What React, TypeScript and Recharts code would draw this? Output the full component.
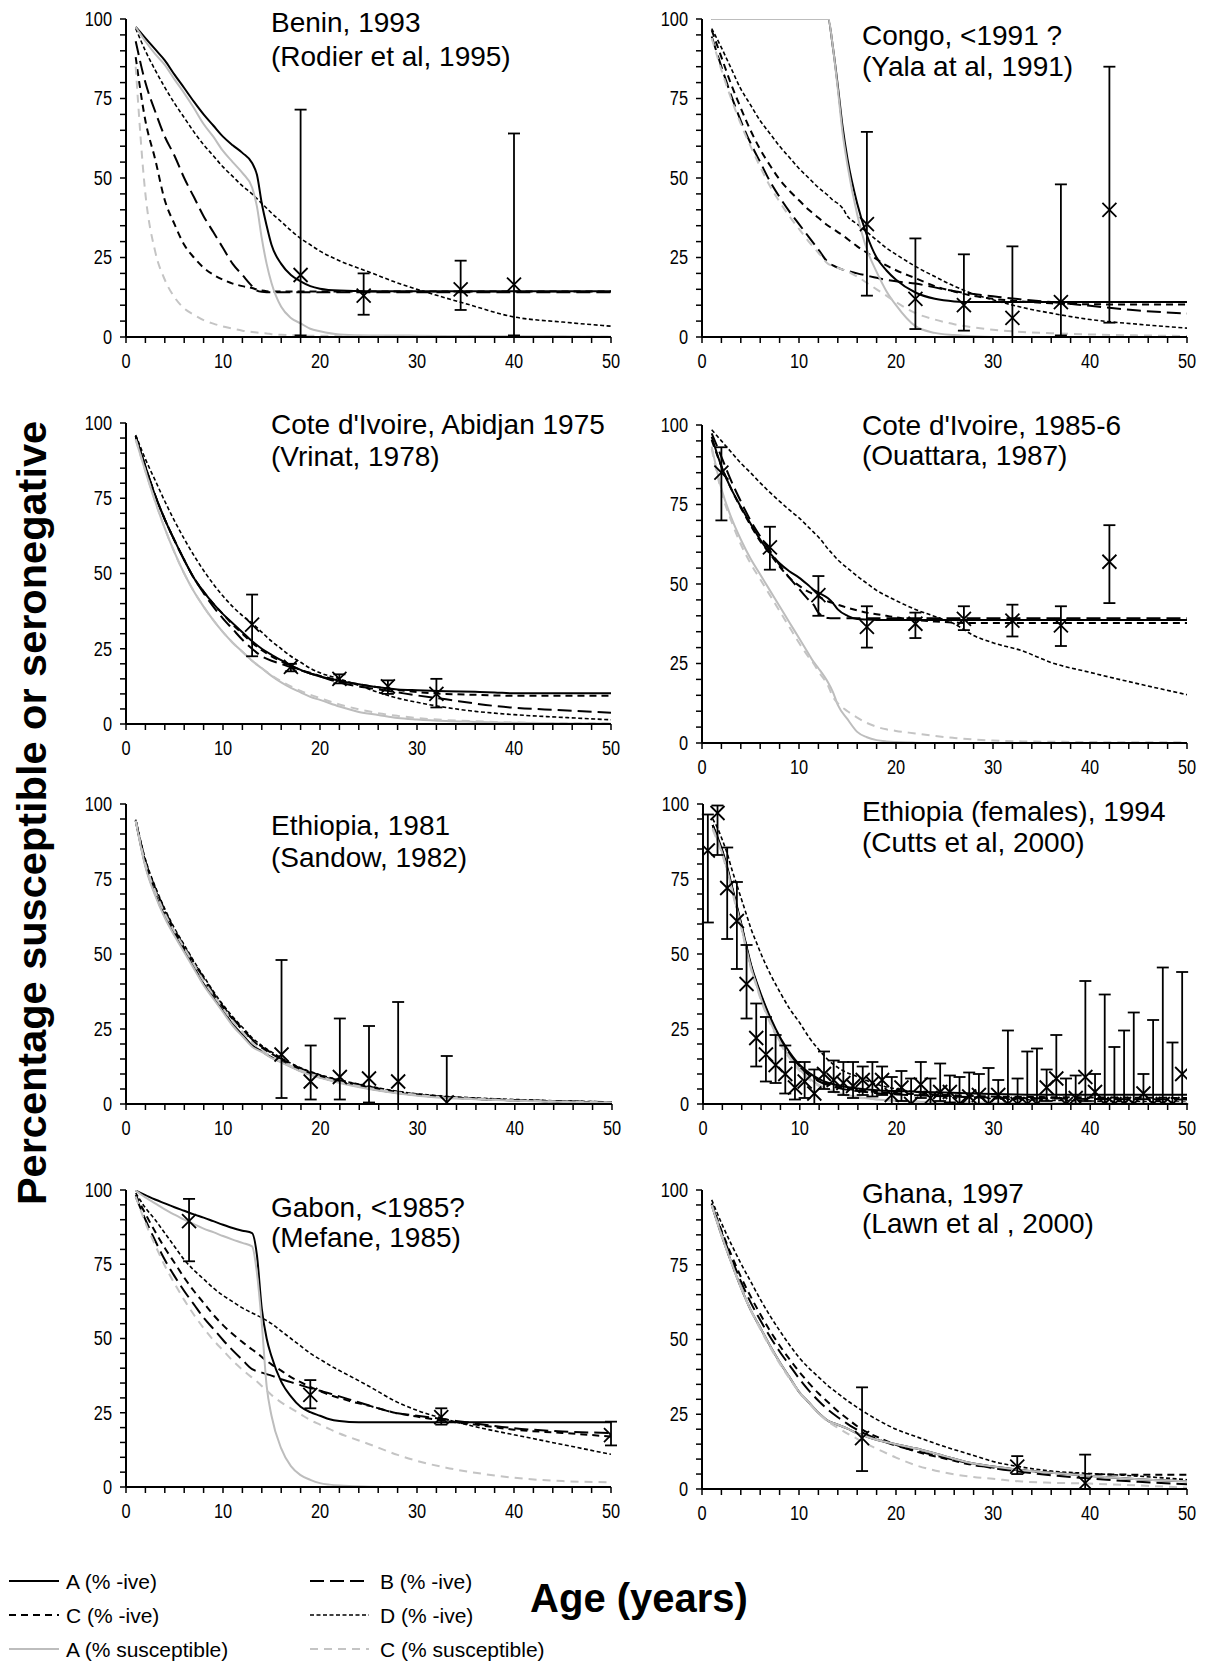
import React from 'react';
import { ComposedChart, Line, Scatter, XAxis, YAxis, ErrorBar } from 'recharts';

const FONT = '"Liberation Sans", Arial, Helvetica, sans-serif';

const X_TICKS = [0, 2, 4, 6, 8, 10, 12, 14, 16, 18, 20, 22, 24, 26, 28, 30, 32, 34, 36, 38, 40, 42, 44, 46, 48, 50];
const Y_TICKS = [0, 5, 10, 15, 20, 25, 30, 35, 40, 45, 50, 55, 60, 65, 70, 75, 80, 85, 90, 95, 100];

// ---------- Benin, 1993 ----------
const beninAges = [1, 2, 3, 4, 5, 6, 7, 8, 9, 10, 11, 12, 13, 13.5, 14, 14.5, 15, 16, 17, 18, 19, 20, 22, 25, 28, 30, 35, 40, 45, 50];
const beninA = [97.5, 94, 90.5, 87, 82.5, 78.3, 74, 70, 66.5, 63, 60.3, 57.9, 54.7, 51, 42, 35, 29, 23, 19.5, 17.5, 16, 15.2, 14.6, 14.4, 14.4, 14.4, 14.4, 14.4, 14.4, 14.4];
const beninB = [93, 80, 71, 63, 57, 50, 44, 38, 33, 28, 23, 19.5, 16, 14.6, 14.2, 14.1, 14.1, 14.1, 14.1, 14.1, 14.1, 14.1, 14.1, 14.1, 14.1, 14.1, 14.1, 14.1, 14.1, 14.1];
const beninC = [88, 68, 56, 43, 35.5, 29, 25, 21.8, 19.6, 18, 16.8, 16, 15.4, 14.9, 14.6, 14.4, 14.3, 14.3, 14.3, 14.3, 14.3, 14.3, 14.3, 14.3, 14.3, 14.3, 14.3, 14.3, 14.3, 14.3];
const beninD = [97, 90, 84, 78.5, 73.5, 69, 64.5, 60.5, 57, 53.5, 50.5, 47.5, 45, 43.5, 42, 40.5, 39, 36.3, 33.5, 31, 29, 27, 24, 20.5, 17, 15, 10.5, 6.3, 4.7, 3.4];
const beninAs = [97.5, 93, 89, 85.6, 81, 76.7, 72, 67, 63, 58.5, 55, 51.6, 47, 41, 31, 23, 17, 9.5, 6, 4.3, 2.6, 1.8, 0.8, 0.5, 0.5, 0.4, 0.3, 0.2, 0.2, 0.1];
const beninCs = [85, 45, 27, 18, 12.5, 9, 7, 5.3, 4.2, 3.3, 2.6, 2, 1.6, 1.4, 1.2, 1.1, 0.9, 0.7, 0.6, 0.5, 0.4, 0.4, 0.3, 0.3, 0.2, 0.2, 0.2, 0.1, 0.1, 0.1];
const beninObsAge = [18, 24.5, 34.5, 40];
const beninObs = [19.5, 13, 15, 16.5];
const beninObsLo = [0.5, 7, 8.5, 0.5];
const beninObsHi = [71.5, 20, 24, 64];

// ---------- Congo, <1991 ----------
const congoAges = [1, 2, 3, 4, 5, 6, 7, 8, 9, 10, 11, 12, 13, 13.5, 14, 14.5, 15, 16, 17, 18, 19, 20, 22, 24, 26, 28, 30, 33, 36, 40, 45, 50];
const congoA = [100, 100, 100, 100, 100, 100, 100, 100, 100, 100, 100, 100, 100, 91, 79, 66, 56, 42, 32, 25, 21, 18, 14, 12, 11.2, 11, 11, 11, 11, 11, 11, 11];
const congoB = [94.5, 85, 76, 68, 61, 55, 49, 44, 39.5, 35.5, 31.5, 27.5, 23.5, 22.5, 21.8, 21.2, 20.8, 20, 19.3, 18.6, 18, 17.5, 16.8, 15.6, 14.4, 13.5, 12.8, 11.8, 11, 9.8, 8.3, 7.4];
const congoC = [96.5, 88, 79.5, 72, 65, 59, 54, 49.5, 46, 43, 40, 37.5, 35, 34, 33, 32, 30.8, 28.5, 26.5, 24.5, 22.5, 21, 18.5, 16, 14.3, 12.9, 12, 11.2, 10.6, 10.3, 10.2, 10.2];
const congoD = [97, 91, 84.5, 78, 73, 68, 64, 60, 56.5, 53, 50, 47, 44.5, 43, 42, 40.5, 38, 35.5, 33, 30.5, 28, 26, 22.2, 19, 16, 13.5, 11.7, 9.3, 7.5, 5.5, 4, 2.8];
const congoAs = [100, 100, 100, 100, 100, 100, 100, 100, 100, 100, 100, 100, 100, 91, 78, 64, 54, 38.5, 27.5, 20.5, 14.5, 10, 3.4, 1.3, 0.6, 0.2, 0, 0, 0, 0, 0, 0];
const congoCs = [94, 84, 75, 67, 60, 53.5, 47.5, 42.5, 38, 34, 30, 26.5, 23, 22.3, 21.7, 21.2, 20.6, 19, 17, 15, 13, 11, 7.5, 5.5, 4, 3, 2.3, 1.6, 1.2, 0.8, 0.5, 0.3];
const congoObsAge = [17, 22, 27, 32, 37, 42];
const congoObs = [35.5, 12, 10, 6, 11, 40];
const congoObsLo = [13, 2.5, 2, 0, 0.5, 4.5];
const congoObsHi = [64.5, 31, 26, 28.5, 48, 85];

// ---------- Cote d'Ivoire, Abidjan 1975 ----------
const civ75Ages = [1, 2, 3, 4, 5, 6, 7, 8, 9, 10, 11, 12, 13, 14, 15, 16, 17, 18, 19, 20, 22, 24, 26, 28, 30, 33, 36, 38, 40, 45, 50];
const civ75A = [95.6, 85.5, 76, 68, 61, 54.5, 48.5, 44, 40, 36.5, 33.5, 30.5, 27.5, 25, 23, 21.2, 19.5, 18, 16.8, 15.8, 14.4, 13.2, 12.2, 11.5, 11.2, 10.9, 10.7, 10.5, 10.2, 10.2, 10.2];
const civ75B = [95.6, 85.5, 76, 68, 61, 54.5, 48.5, 43.5, 39, 35, 31.5, 28, 25, 22.5, 21, 20, 18.8, 17.8, 16.8, 15.8, 13.8, 12.5, 11.5, 10.5, 9.5, 8.2, 6.8, 6, 5.4, 4.6, 3.7];
const civ75C = [95.6, 85.5, 76, 68, 61, 54.5, 48.5, 44, 40, 36.5, 33, 30, 27, 24.5, 22.5, 20.8, 19.3, 18, 17, 16, 14.5, 13.2, 12.2, 11.3, 10.6, 10, 9.7, 9.5, 9.4, 9.4, 9.4];
const civ75D = [96, 88, 81, 74, 67.5, 61.5, 56, 51, 46.5, 42.5, 39, 36, 33.5, 30.5, 27.5, 25, 22.5, 20.5, 18.5, 17, 15, 12.8, 10.5, 8.6, 7.2, 5.5, 4.2, 3.6, 3.1, 2.2, 1.4];
const civ75As = [94.5, 84, 74, 65, 57, 50, 44, 39, 34.5, 30.5, 27, 24, 21, 18.5, 16, 13.8, 12, 10.5, 9, 8, 5.8, 4, 3, 2, 1.5, 1, 0.7, 0.5, 0.4, 0.2, 0.1];
const civ75Cs = [94.5, 84, 74, 65, 57, 50, 44, 39, 34.5, 30.5, 27, 24, 21, 18.5, 16.2, 14.2, 12.5, 11, 9.7, 8.6, 6.5, 4.9, 3.6, 2.7, 2, 1.3, 0.9, 0.7, 0.5, 0.3, 0.2];
const civ75ObsAge = [13, 17, 22, 27, 32];
const civ75Obs = [33, 19, 15, 12.5, 10];
const civ75ObsLo = [22.5, 17.5, 13.5, 10, 5.5];
const civ75ObsHi = [43, 20, 16.5, 14.5, 15];

// ---------- Cote d'Ivoire, 1985-6 ----------
const civ85Ages = [1, 2, 3, 4, 5, 6, 7, 8, 9, 10, 11, 11.5, 12, 13, 13.5, 14, 15, 16, 17, 18, 19, 20, 22, 24, 26, 28, 30, 33, 36, 40, 45, 50];
const civ85A = [96.3, 87, 80, 74.3, 69, 64, 59.7, 56.5, 54, 52, 49.5, 48.2, 47.3, 45.5, 44, 42, 40, 39, 38.8, 38.7, 38.7, 38.7, 38.7, 38.7, 38.7, 38.7, 38.7, 38.7, 38.7, 38.7, 38.7, 38.7];
const civ85B = [97.4, 90, 82.5, 76, 70, 65, 60.5, 56, 52, 48.5, 45, 43.5, 41, 39.3, 39.2, 39.2, 39.2, 39.2, 39.2, 39.2, 39.2, 39.2, 39.2, 39.2, 39.2, 39.2, 39.2, 39.2, 39.2, 39.2, 39.2, 39.2];
const civ85C = [95.3, 87, 80, 74, 68.5, 63.5, 59.5, 55.5, 52, 49.5, 47.5, 46.8, 46, 44.5, 44, 43.5, 42.5, 41.7, 41, 40.5, 40, 39.5, 38.7, 38.2, 37.9, 37.7, 37.7, 37.7, 37.7, 37.7, 37.7, 37.7];
const civ85D = [98.5, 95, 91.5, 88, 85, 81.8, 78.8, 76, 73.3, 70.8, 67.8, 66.3, 64.8, 61, 59.3, 57.6, 55, 52.5, 50.2, 48, 46.3, 44.8, 42, 39.8, 37.5, 33.8, 31.5, 29, 25.3, 22.2, 18.6, 15.2];
const civ85As = [93.2, 80, 71, 64, 58, 53, 48, 43, 38, 33, 28, 25.5, 23.5, 19, 16, 12, 7.5, 3.5, 1.8, 0.9, 0.5, 0.3, 0.1, 0, 0, 0, 0, 0, 0, 0, 0, 0];
const civ85Cs = [92.5, 79, 70, 62.5, 56.5, 51.5, 46.5, 41.5, 36.5, 31.5, 27, 25, 22.5, 18, 14.5, 12.5, 10, 8, 6.3, 5.1, 4.3, 3.8, 3, 2.2, 1.6, 1.1, 0.8, 0.5, 0.4, 0.3, 0.2, 0.2];
const civ85ObsAge = [2, 7, 12, 17, 22, 27, 32, 37, 42];
const civ85Obs = [85, 61.5, 46.5, 36.5, 37.5, 39, 38.5, 37, 57];
const civ85ObsLo = [70, 54.5, 40, 30, 33, 35.5, 33.5, 30.5, 44];
const civ85ObsHi = [93, 68, 52.5, 43, 41, 43, 43.5, 43, 68.5];

// ---------- Ethiopia, 1981 ----------
const eth81Ages = [1, 2, 3, 4, 5, 6, 7, 8, 9, 10, 11, 12, 13, 14, 15, 16, 18, 20, 22, 25, 28, 32, 36, 40, 45, 50];
const eth81A = [94.5, 79.5, 70, 62.5, 56.5, 51, 45.5, 40, 35.5, 31, 26.5, 23, 19.5, 17.5, 15.5, 14, 11, 8.9, 7.2, 5.2, 3.7, 2.4, 1.7, 1.2, 0.8, 0.5];
const eth81B = [94.5, 81, 72, 64.5, 58, 52.5, 47, 42, 37, 32.5, 28.5, 25, 21.5, 19, 17, 15, 11.8, 9.5, 7.8, 5.8, 4, 2.6, 1.8, 1.3, 0.9, 0.6];
const eth81C = [94.5, 80.5, 71.5, 64, 57.5, 52, 46.5, 41.5, 36.6, 32.2, 28.2, 24.7, 21.2, 18.7, 16.7, 14.8, 11.6, 9.3, 7.6, 5.6, 3.9, 2.5, 1.7, 1.2, 0.8, 0.5];
const eth81D = [94.8, 81.5, 72.5, 65, 58.5, 53, 47.5, 42.5, 37.5, 33, 29, 25.5, 22, 19.4, 17.3, 15.3, 12, 9.7, 8, 6, 4.2, 2.8, 2, 1.5, 1, 0.7];
const eth81As = [94.4, 79, 69.5, 62, 56, 50.5, 45, 39.5, 35, 30.5, 26, 22.5, 19, 17.3, 15.3, 13.8, 10.8, 8.7, 7, 5, 3.5, 2.2, 1.6, 1.1, 0.7, 0.4];
const eth81Cs = [94.4, 80, 71, 63.5, 57.5, 52, 46.5, 41, 36.3, 31.8, 27.5, 24, 20.5, 18, 15.8, 14.2, 11.2, 9, 7.3, 5.3, 3.8, 2.4, 1.7, 1.2, 0.8, 0.5];
const eth81ObsAge = [16, 19, 22, 25, 28, 33];
const eth81Obs = [16.5, 7.5, 9, 8.5, 7.5, 0.5];
const eth81ObsLo = [2, 1.5, 1.5, 0.5, 0, 0];
const eth81ObsHi = [48, 19.5, 28.5, 26, 34, 16];

// ---------- Ethiopia (females), 1994 ----------
const ethFAges = [1, 1.5, 2, 2.5, 3, 3.5, 4, 4.5, 5, 5.5, 6, 7, 8, 9, 10, 11, 12, 13, 14, 16, 18, 20, 22, 25, 28, 30, 35, 40, 45, 50];
const ethFA = [93, 89, 84.5, 79, 72.5, 66, 59.5, 52.5, 46, 41, 36.5, 28.5, 22, 17, 13, 10.3, 8.3, 7, 6.2, 5.2, 4.6, 4.3, 4.1, 3.8, 3.5, 3.3, 3.1, 3.1, 3.1, 3.1];
const ethFB = [93, 88.5, 84, 78.5, 72, 65.5, 59, 52, 45.5, 40.5, 36, 28, 21.5, 16.3, 12.3, 9.5, 7.5, 6.2, 5.3, 4.3, 3.6, 3.2, 2.9, 2.6, 2.3, 2.1, 1.9, 1.7, 1.6, 1.5];
const ethFC = [93, 88.5, 84, 78.5, 72, 65.5, 59, 52, 45.5, 40.5, 36, 28, 21.5, 16.5, 12.5, 9.8, 7.8, 6.5, 5.6, 4.6, 4, 3.6, 3.3, 3, 2.7, 2.5, 2.3, 2.2, 2.1, 2];
const ethFD = [95, 92, 88, 83.5, 78, 73, 68, 63, 58, 54, 50, 43, 37, 31.5, 27, 22, 18, 14.5, 12, 9, 6.5, 5, 4, 2.8, 2.1, 1.8, 1.3, 1, 0.8, 0.6];
const ethFAs = [92, 88, 83.5, 78, 71.5, 65, 58.5, 51.5, 45, 40, 35, 27, 20.5, 15.5, 11.5, 8.5, 6.3, 4.8, 3.7, 2.3, 1.5, 1.1, 0.8, 0.6, 0.5, 0.4, 0.3, 0.3, 0.3, 0.3];
const ethFCs = [91.5, 87.5, 83, 77.5, 71, 64.5, 58, 51, 44.5, 39.5, 34.5, 26.5, 20, 15, 11, 8, 6, 4.5, 3.5, 2.2, 1.5, 1.1, 0.8, 0.6, 0.5, 0.4, 0.3, 0.2, 0.2, 0.2];
const ethFObsAge = [0.5, 1.5, 2.5, 3.5, 4.5, 5.5, 6.5, 7.5, 8.5, 9.5, 10.5, 11.5, 12.5, 13.5, 14.5, 15.5, 16.5, 17.5, 18.5, 19.5, 20.5, 21.5, 22.5, 23.5, 24.5, 25.5, 26.5, 27.5, 28.5, 29.5, 30.5, 31.5, 32.5, 33.5, 34.5, 35.5, 36.5, 37.5, 38.5, 39.5, 40.5, 41.5, 42.5, 43.5, 44.5, 45.5, 46.5, 47.5, 48.5, 49.5];
const ethFObs = [84.5, 97, 72, 61, 40, 22, 16.5, 13, 10, 5.5, 7.5, 3.5, 10, 8, 7, 6, 8, 7, 8, 3, 5.5, 0, 6.5, 2, 4, 4, 0, 2.5, 3, 0, 3, 0, 0, 0, 0, 5.5, 8.5, 0, 2, 9, 4, 0, 0, 0, 0, 3.5, 0, 0, 0, 10];
const ethFObsLo = [60.5, 83, 55, 45, 28.5, 12.5, 7.5, 7, 3.5, 1.5, 2, 0, 5, 4, 3, 2, 3, 2.5, 3, 0, 1, 0, 2, 0, 1, 0.5, 0, 0, 0, 0, 0, 0, 0, 0, 0, 1, 2, 0, 0, 1, 0, 0, 0, 0, 0, 0, 0, 0, 0, 0];
const ethFObsHi = [96.5, 99.5, 85.5, 74, 53, 33.5, 29, 23, 19.5, 14, 14, 11.5, 17.5, 14.5, 14, 14, 12.5, 14, 12.5, 9, 11, 8.5, 14, 8.5, 13.5, 9.5, 9, 10.5, 10, 12, 8, 24.5, 8.5, 17.5, 18.5, 11.5, 23, 8.5, 9.5, 41, 10, 36.5, 19, 24.5, 30.5, 10, 28, 45.5, 20.5, 44];

// ---------- Gabon, <1985? ----------
const gabonAges = [1, 2, 3, 4, 5, 6, 7, 8, 9, 10, 11, 12, 13, 13.5, 14, 14.5, 15, 16, 17, 18, 19, 20, 21, 22, 23, 25, 28, 30, 33, 36, 40, 45, 50];
const gabonA = [99.8, 98.3, 96.8, 95.5, 94.2, 93, 91.8, 90.7, 89.5, 88.3, 87.2, 86.3, 85.5, 78, 60, 50, 44, 35.5, 30.5, 27, 25.2, 24, 22.8, 22.2, 21.9, 21.8, 21.8, 21.8, 21.8, 21.8, 21.8, 21.8, 21.8];
const gabonB = [97.8, 90, 83, 76.5, 71, 66, 61.5, 57, 53.3, 49.5, 46, 42.8, 39.7, 39, 38.5, 38, 37.5, 36.3, 35.3, 34.3, 33.3, 32.4, 31.5, 30.5, 29.5, 27.5, 24.8, 24, 22.7, 21.4, 19.8, 18.7, 18.2];
const gabonC = [98.3, 92, 86, 80.5, 75.5, 70.5, 66, 62, 58, 54.5, 51.5, 48.8, 46.3, 45.2, 43.8, 42.5, 41.3, 39.2, 37, 35.3, 33.7, 32.3, 31, 30, 29, 27.4, 24.8, 23.7, 22.2, 21, 19.3, 18.2, 17];
const gabonD = [99, 94, 90, 85.5, 81, 76.5, 73, 70, 67, 64.5, 62.4, 60.3, 58.6, 57.8, 57, 56, 55, 52.5, 50, 47.5, 45, 43, 41, 39.2, 37.5, 34, 28.5, 25.8, 22.8, 20.3, 17.6, 14.3, 11];
const gabonAs = [99.8, 97.5, 95.5, 93.5, 91.7, 90, 88.5, 87, 85.8, 84.5, 83.3, 82.2, 81, 72, 55, 34, 24, 13, 7, 4, 2.4, 1.3, 0.8, 0.5, 0.3, 0.1, 0, 0, 0, 0, 0, 0, 0];
const gabonCs = [97.8, 89, 81.5, 74.5, 68.5, 63, 58, 53.5, 49.5, 46, 42.5, 39.5, 36.8, 35.5, 34, 32.5, 31, 28.5, 26.5, 24.5, 22.5, 21, 19.5, 18, 16.8, 14.5, 10.8, 8.8, 6.5, 4.8, 3.1, 2, 1.6];
const gabonObsAge = [6.5, 19, 32.5, 50];
const gabonObs = [89.5, 31, 23.5, 17.5];
const gabonObsLo = [76, 26.5, 21, 14];
const gabonObsHi = [97, 36, 26.5, 22];

// ---------- Ghana, 1997 ----------
const ghanaAges = [1, 2, 3, 4, 5, 6, 7, 8, 9, 10, 11, 12, 13, 14, 15, 16, 17, 18, 20, 22, 25, 28, 30, 33, 36, 40, 45, 50];
const ghanaA = [95, 85, 76, 67.5, 60, 54, 48, 42.5, 37.5, 32.5, 29, 25.5, 22.8, 21.5, 20.2, 18.6, 17.5, 16.5, 15, 13.6, 11, 8.5, 7.5, 6.3, 5.4, 4.4, 3.3, 2.6];
const ghanaB = [95.3, 86, 77.5, 69.5, 62.5, 56.5, 51, 46, 41.5, 37, 33, 29.5, 26.5, 24, 21.8, 19.8, 18.2, 16.8, 14.5, 12.8, 10.5, 8.2, 7, 5.7, 4.6, 3.5, 2.4, 1.6];
const ghanaC = [95.5, 86.5, 78.5, 71, 64.5, 58.5, 53, 48, 43.5, 39.3, 35.5, 32, 29, 26, 23.5, 21, 19, 17.5, 14.8, 12.6, 10.2, 8, 7.2, 6.2, 5.4, 5, 4.8, 4.8];
const ghanaD = [96.7, 89, 82, 75.5, 69.5, 63.5, 58, 53, 48.3, 44, 40.5, 37.5, 34.5, 32, 29.5, 27.3, 25.2, 23.3, 20, 17.6, 14.2, 11.2, 9.2, 7.3, 6, 5.2, 4.3, 3.1];
const ghanaAs = [95, 85, 76, 67.5, 60, 54, 48, 42.5, 37.5, 32.5, 29, 25.5, 22.8, 21.5, 20.2, 18.6, 17.5, 16.5, 15, 13.6, 11, 8.5, 7.5, 6.3, 5.4, 4.4, 3.3, 2.6];
const ghanaCs = [95, 85, 76, 67.5, 60, 53.5, 47.5, 42, 37, 32.5, 28.8, 25.3, 22.5, 20.5, 18.5, 16.8, 15, 13.5, 10.5, 8, 5.5, 4, 3.4, 2.5, 2.1, 1.8, 1.2, 0.4];
const ghanaObsAge = [16.5, 32.5, 39.5];
const ghanaObs = [17, 7.5, 2];
const ghanaObsLo = [6, 5, 0];
const ghanaObsHi = [34, 11, 11.5];

// ---------- Legend labels ----------
const LEGEND_LABELS = ['A (% -ive)', 'B (% -ive)', 'C (% -ive)', 'D (% -ive)', 'A (% susceptible)', 'C (% susceptible)'];
const LEGEND_KEYS = ['A', 'B', 'C', 'D', 'As', 'Cs'];

const STYLE: Record<string, { stroke: string; width: number; dash?: string }> = {
  A: { stroke: '#000', width: 2 },
  B: { stroke: '#000', width: 2, dash: '14 6' },
  C: { stroke: '#000', width: 2, dash: '7 5' },
  D: { stroke: '#000', width: 1.6, dash: '4 2.5' },
  As: { stroke: '#bdbdbd', width: 2 },
  Cs: { stroke: '#c4c4c4', width: 2, dash: '8 6' },
};

type PanelDef = {
  title: [string, string];
  ages: number[];
  series: Record<string, number[]>;
  obsAge: number[];
  obs: number[];
  obsLo: number[];
  obsHi: number[];
  box: { l: number; t: number; r: number; b: number };
  titleX: number;
  titleY: [number, number];
};

const PANELS: PanelDef[] = [
  {
    title: ['Benin, 1993', '(Rodier et al, 1995)'],
    ages: beninAges,
    series: { A: beninA, B: beninB, C: beninC, D: beninD, As: beninAs, Cs: beninCs },
    obsAge: beninObsAge, obs: beninObs, obsLo: beninObsLo, obsHi: beninObsHi,
    box: { l: 126, t: 19, r: 611, b: 337 }, titleX: 271, titleY: [22, 55.5],
  },
  {
    title: ['Congo, <1991 ?', '(Yala at al, 1991)'],
    ages: congoAges,
    series: { A: congoA, B: congoB, C: congoC, D: congoD, As: congoAs, Cs: congoCs },
    obsAge: congoObsAge, obs: congoObs, obsLo: congoObsLo, obsHi: congoObsHi,
    box: { l: 702, t: 19, r: 1187, b: 337 }, titleX: 862, titleY: [34.5, 66],
  },
  {
    title: ["Cote d'Ivoire, Abidjan 1975", '(Vrinat, 1978)'],
    ages: civ75Ages,
    series: { A: civ75A, B: civ75B, C: civ75C, D: civ75D, As: civ75As, Cs: civ75Cs },
    obsAge: civ75ObsAge, obs: civ75Obs, obsLo: civ75ObsLo, obsHi: civ75ObsHi,
    box: { l: 126, t: 423, r: 611, b: 724 }, titleX: 271, titleY: [424, 456],
  },
  {
    title: ["Cote d'Ivoire, 1985-6", '(Ouattara, 1987)'],
    ages: civ85Ages,
    series: { A: civ85A, B: civ85B, C: civ85C, D: civ85D, As: civ85As, Cs: civ85Cs },
    obsAge: civ85ObsAge, obs: civ85Obs, obsLo: civ85ObsLo, obsHi: civ85ObsHi,
    box: { l: 702, t: 425, r: 1187, b: 743 }, titleX: 862, titleY: [424.5, 455],
  },
  {
    title: ['Ethiopia, 1981', '(Sandow, 1982)'],
    ages: eth81Ages,
    series: { A: eth81A, B: eth81B, C: eth81C, D: eth81D, As: eth81As, Cs: eth81Cs },
    obsAge: eth81ObsAge, obs: eth81Obs, obsLo: eth81ObsLo, obsHi: eth81ObsHi,
    box: { l: 126, t: 804, r: 612, b: 1104 }, titleX: 271, titleY: [824.5, 856.5],
  },
  {
    title: ['Ethiopia (females), 1994', '(Cutts et al, 2000)'],
    ages: ethFAges,
    series: { A: ethFA, B: ethFB, C: ethFC, D: ethFD, As: ethFAs, Cs: ethFCs },
    obsAge: ethFObsAge, obs: ethFObs, obsLo: ethFObsLo, obsHi: ethFObsHi,
    box: { l: 703, t: 804, r: 1187, b: 1104 }, titleX: 862, titleY: [811, 842],
  },
  {
    title: ['Gabon, <1985?', '(Mefane, 1985)'],
    ages: gabonAges,
    series: { A: gabonA, B: gabonB, C: gabonC, D: gabonD, As: gabonAs, Cs: gabonCs },
    obsAge: gabonObsAge, obs: gabonObs, obsLo: gabonObsLo, obsHi: gabonObsHi,
    box: { l: 126, t: 1190, r: 611, b: 1487 }, titleX: 271, titleY: [1206.5, 1236.5],
  },
  {
    title: ['Ghana, 1997', '(Lawn et al , 2000)'],
    ages: ghanaAges,
    series: { A: ghanaA, B: ghanaB, C: ghanaC, D: ghanaD, As: ghanaAs, Cs: ghanaCs },
    obsAge: ghanaObsAge, obs: ghanaObs, obsLo: ghanaObsLo, obsHi: ghanaObsHi,
    box: { l: 702, t: 1190, r: 1187, b: 1489 }, titleX: 862, titleY: [1192.5, 1222.5],
  },
];

const DRAW_ORDER = ['A', 'B', 'C', 'D', 'As', 'Cs'];
const YAXIS_W = 90;
const M_TOP = 20;
const M_RIGHT = 15;
const XAXIS_H = 45;
const TICK_FS = 19.5;
const TICK_SX = 0.84;
const TITLE_FS = 28;

const zip = (ages: number[], vals: number[]) =>
  ages.map((x, i) => ({ x, y: vals[i] })).filter((p) => p.y !== null && p.y !== undefined);

const XMark = (props: any) => {
  const { cx, cy } = props;
  if (cx == null || cy == null || isNaN(cx) || isNaN(cy)) return null;
  const s = 7;
  return (
    <path
      d={`M${cx - s},${cy - s}L${cx + s},${cy + s}M${cx - s},${cy + s}L${cx + s},${cy - s}`}
      stroke="#000"
      strokeWidth={1.8}
      fill="none"
    />
  );
};

const makeTick = (every: number, anchor: 'middle' | 'end', dy: string) => (props: any) => {
  const { x, y, payload } = props;
  const v = payload && payload.value;
  if (v == null || v % every !== 0) return <g />;
  return (
    <text
      transform={`translate(${x},${y}) scale(${TICK_SX},1)`}
      x={0}
      y={0}
      dy={dy}
      textAnchor={anchor}
      fontSize={TICK_FS}
      fontFamily={FONT}
      fill="#000"
    >
      {String(v)}
    </text>
  );
};

const xTick = makeTick(10, 'middle', '0.71em');
const yTick = makeTick(25, 'end', '0.355em');

function Panel({ p }: { p: PanelDef }) {
  const { l, t, r, b } = p.box;
  const W = r - l + YAXIS_W + M_RIGHT;
  const H = b - t + M_TOP + XAXIS_H;
  const obsData = p.obsAge.map((x, i) => ({
    x,
    y: p.obs[i],
    err: [p.obs[i] - p.obsLo[i], p.obsHi[i] - p.obs[i]],
  }));
  return (
    <div style={{ position: 'absolute', left: l - YAXIS_W, top: t - M_TOP, width: W, height: H }}>
      <ComposedChart width={W} height={H} margin={{ top: M_TOP, right: M_RIGHT, left: 0, bottom: 0 }}>
        <XAxis
          type="number"
          dataKey="x"
          domain={[0, 50]}
          ticks={X_TICKS}
          interval={0}
          allowDataOverflow
          height={XAXIS_H}
          tickSize={6}
          tickMargin={11}
          tick={xTick}
          tickLine={{ stroke: '#000', strokeWidth: 1.5 }}
          axisLine={{ stroke: '#000', strokeWidth: 2 }}
        />
        <YAxis
          type="number"
          dataKey="y"
          domain={[0, 100]}
          ticks={Y_TICKS}
          interval={0}
          allowDataOverflow
          width={YAXIS_W}
          tickSize={6}
          tickMargin={8}
          tick={yTick}
          tickLine={{ stroke: '#000', strokeWidth: 1.5 }}
          axisLine={{ stroke: '#000', strokeWidth: 2 }}
        />
        {DRAW_ORDER.map((k) => {
          const s = STYLE[k];
          return (
            <Line
              key={k}
              data={zip(p.ages, p.series[k])}
              dataKey="y"
              type="monotone"
              stroke={s.stroke}
              strokeWidth={s.width}
              strokeDasharray={s.dash}
              dot={false}
              activeDot={false}
              isAnimationActive={false}
            />
          );
        })}
        <Scatter data={obsData} dataKey="y" shape={(props: any) => <XMark {...props} />} isAnimationActive={false}>
          <ErrorBar dataKey="err" direction="y" width={6} stroke="#000" strokeWidth={1.8} />
        </Scatter>
      </ComposedChart>
    </div>
  );
}

export default function App() {
  const legendRows = [1581, 1615, 1649];
  const legendCols = [9, 310];
  const legendLen = [50, 59];
  const legendText = [66, 380];
  return (
    <div
      style={{
        position: 'absolute',
        left: 0,
        top: 0,
        width: 1218,
        height: 1678,
        background: '#fff',
        fontFamily: FONT,
        overflow: 'hidden',
      }}
    >
      {PANELS.map((p, i) => (
        <Panel key={i} p={p} />
      ))}
      <svg
        width={1218}
        height={1678}
        style={{ position: 'absolute', left: 0, top: 0, pointerEvents: 'none' }}
        fontFamily={FONT}
      >
        {PANELS.map((p, i) => (
          <g key={i}>
            <text x={p.titleX} y={p.titleY[0] + 0.358 * TITLE_FS} fontSize={TITLE_FS} fill="#000">
              {p.title[0]}
            </text>
            <text x={p.titleX} y={p.titleY[1] + 0.358 * TITLE_FS} fontSize={TITLE_FS} fill="#000">
              {p.title[1]}
            </text>
          </g>
        ))}
        <text
          transform="translate(46,813) rotate(-90)"
          x={0}
          y={0}
          textAnchor="middle"
          fontSize={41.5}
          fontWeight="bold"
          fill="#000"
        >
          Percentage susceptible or seronegative
        </text>
        <text x={639} y={1612} textAnchor="middle" fontSize={40} fontWeight="bold" fill="#000">
          Age (years)
        </text>
        {LEGEND_KEYS.map((k, i) => {
          const s = STYLE[k];
          const col = i % 2;
          const x = legendCols[col];
          const y = legendRows[Math.floor(i / 2)];
          return (
            <g key={k}>
              <line
                x1={x}
                y1={y}
                x2={x + legendLen[col]}
                y2={y}
                stroke={s.stroke}
                strokeWidth={s.width}
                strokeDasharray={s.dash}
              />
              <text x={legendText[col]} y={y + 7.5} fontSize={21} fill="#000">
                {LEGEND_LABELS[i]}
              </text>
            </g>
          );
        })}
      </svg>
    </div>
  );
}
